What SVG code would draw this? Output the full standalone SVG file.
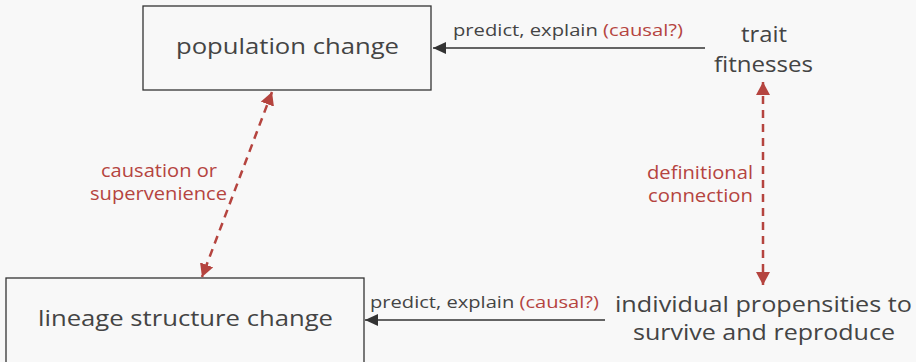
<svg xmlns="http://www.w3.org/2000/svg" width="916" height="362" viewBox="0 0 916 362">
<defs>
<style>
.bg{fill:#f8f8f8}
.box{fill:#f8f8f8;stroke:#333;stroke-width:1.3}
.t{font-family:"Open Sans","DejaVu Sans",sans-serif;fill:#444;text-anchor:middle}
.big{font-size:22px}
.sm{font-size:16.5px}
.lab{font-size:17.5px}
.red{fill:#b5443f}
.solid{stroke:#333;stroke-width:1.3;fill:none}
.dash{stroke:#b5443f;stroke-width:2.5;fill:none;stroke-dasharray:8 6}
</style>
<marker id="ah" viewBox="0 0 13 12" refX="13" refY="6" markerWidth="13" markerHeight="12" markerUnits="userSpaceOnUse" orient="auto"><path d="M0,0 L13,6 L0,12 z" fill="#333"/></marker>
<marker id="rh" viewBox="0 0 13 14" refX="13" refY="7" markerWidth="13" markerHeight="14" markerUnits="userSpaceOnUse" orient="auto-start-reverse"><path d="M0,0 L13,7 L0,14 z" fill="#b5443f"/></marker>
</defs>
<rect class="bg" width="916" height="362"/>
<g id="population">
<rect class="box" x="143" y="6" width="288" height="84"/>
<text class="t big" x="287.5" y="54" textLength="223" lengthAdjust="spacingAndGlyphs">population change</text>
</g>
<g id="lineage">
<rect class="box" x="6" y="278" width="358" height="100"/>
<text class="t big" x="185.5" y="326" textLength="295" lengthAdjust="spacingAndGlyphs">lineage structure change</text>
</g>
<g id="trait">
<text class="t big" x="764" y="42" textLength="46" lengthAdjust="spacingAndGlyphs">trait</text>
<text class="t big" x="763.5" y="72" textLength="99" lengthAdjust="spacingAndGlyphs">fitnesses</text>
</g>
<g id="individual">
<text class="t big" x="763.5" y="312" textLength="297" lengthAdjust="spacingAndGlyphs">individual propensities to</text>
<text class="t big" x="764" y="340" textLength="262" lengthAdjust="spacingAndGlyphs">survive and reproduce</text>
</g>
<g id="connectors">
<line class="solid" x1="705" y1="48" x2="433" y2="48" marker-end="url(#ah)"/>
<text class="t sm" x="568" y="36" textLength="230" lengthAdjust="spacingAndGlyphs">predict, explain <tspan class="red">(causal?)</tspan></text>
<line class="solid" x1="605" y1="320" x2="365" y2="320" marker-end="url(#ah)"/>
<text class="t sm" x="484.5" y="308" textLength="229" lengthAdjust="spacingAndGlyphs">predict, explain <tspan class="red">(causal?)</tspan></text>
<line class="dash" x1="763" y1="82" x2="763" y2="285" marker-start="url(#rh)" marker-end="url(#rh)"/>
<text class="t lab red" x="700" y="179" textLength="106" lengthAdjust="spacingAndGlyphs">definitional</text>
<text class="t lab red" x="700.5" y="202" textLength="105" lengthAdjust="spacingAndGlyphs">connection</text>
<line class="dash" x1="272" y1="92" x2="202" y2="277" marker-start="url(#rh)" marker-end="url(#rh)"/>
<text class="t lab red" x="159" y="177" textLength="116" lengthAdjust="spacingAndGlyphs">causation or</text>
<text class="t lab red" x="158.5" y="200" textLength="137" lengthAdjust="spacingAndGlyphs">supervenience</text>
</g>
</svg>
